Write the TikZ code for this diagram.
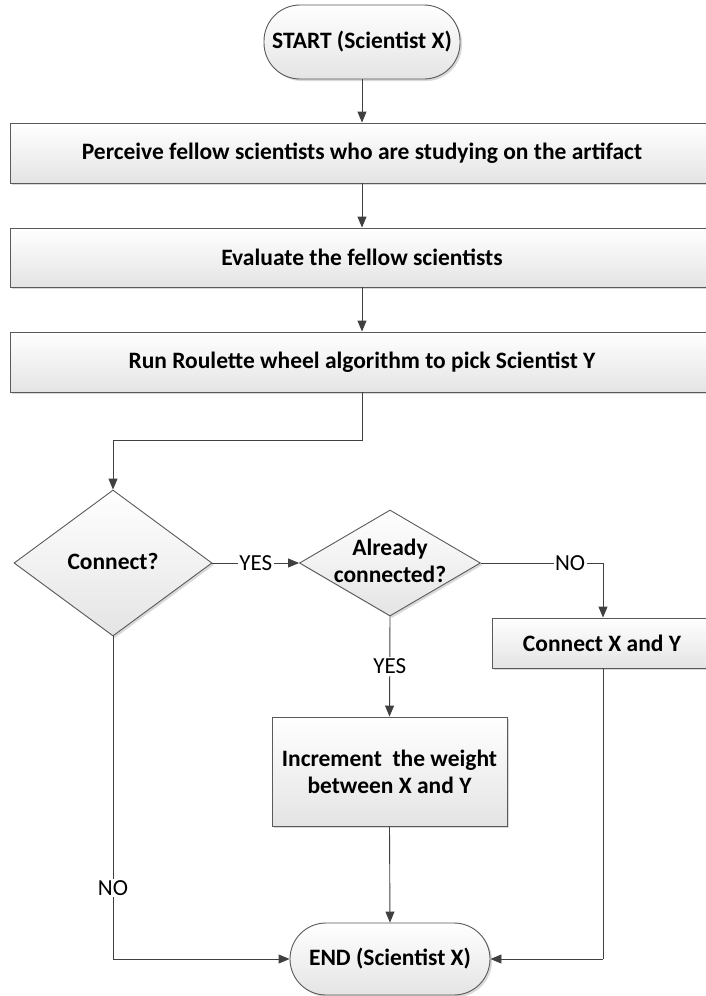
\documentclass[tikz,border=0pt]{standalone}
\usepackage{fontspec}
\setmainfont{Carlito}
\usetikzlibrary{arrows.meta,shapes.geometric,shadows}

\definecolor{edgegray}{HTML}{5A5A5A}
\definecolor{linegray}{HTML}{404040}
\definecolor{fillbot}{HTML}{E4E4E4}

\tikzset{
  shapebase/.style={draw=edgegray, line width=0.9pt, top color=white, bottom color=fillbot,
    drop shadow={shadow xshift=2pt, shadow yshift=-2pt, opacity=0.25, fill=black!60},
    font=\bfseries\fontsize{23.5}{27}\selectfont, align=center, inner sep=0pt},
  procbox/.style={shapebase, rectangle},
  termbox/.style={shapebase, rectangle, rounded corners=36pt},
  decision/.style={shapebase, diamond},
  flow/.style={draw=linegray, line width=0.9pt, -{Triangle[length=11pt,width=9pt]}},
  plain/.style={draw=linegray, line width=0.9pt},
  tag/.style={fill=white, inner sep=1.5pt, font=\fontsize{23}{26}\selectfont}
}
% text of fixed-size diamonds takes no room of its own
\newcommand{\zerobox}[1]{\makebox[0pt]{\smash{\raisebox{-0.3em}{\begin{tabular}{@{}c@{}}#1\end{tabular}}}}}

\begin{document}
\begin{tikzpicture}[x=1pt,y=-1pt]
\useasboundingbox (0,0) rectangle (706,996);

\node[termbox, minimum width=196pt, minimum height=74pt] (start) at (362,42) {START (Scientist X)};
\node[procbox, minimum width=704pt, minimum height=60pt] (perceive) at (362,153) {Perceive fellow scientists who are studying on the artifact};
\node[procbox, minimum width=704pt, minimum height=59pt] (evaluate) at (362,257.5) {Evaluate the fellow scientists};
\node[procbox, minimum width=704pt, minimum height=60pt] (roulette) at (362,362) {Run Roulette wheel algorithm to pick Scientist Y};

\node[decision, minimum width=198pt, minimum height=146pt] (connect) at (113,563) {\zerobox{Connect?}};
\node[decision, minimum width=181pt, minimum height=106pt] (already) at (390,563) {\zerobox{Already\\connected?}};

\node[procbox, minimum width=220pt, minimum height=50pt] (joinxy) at (602,643) {Connect X and Y};
\node[procbox, minimum width=235pt, minimum height=109pt] (incr) at (389.5,771.5) {Increment\ \ the weight\\between X and Y};
\node[termbox, minimum width=200pt, minimum height=72pt] (finish) at (390,959) {END (Scientist X)};

% main sequence
\draw[flow] (start.south) -- (perceive.north);
\draw[flow] (perceive.south) -- (evaluate.north);
\draw[flow] (evaluate.south) -- (roulette.north);

\coordinate (bend) at (362,440);
\draw[flow] (roulette.south) -- (bend) -| (connect.north);

% decisions
\draw[flow] (connect.east) -- node[tag] {YES} (already.west);

\coordinate (nocorner) at (603,563);
\draw[plain] (already.east) -- node[tag, pos=0.73] {NO} (nocorner);
\draw[flow] (nocorner) -- (nocorner |- joinxy.north);

\draw[flow] (already.south) -- node[tag] {YES} (incr.north);

% into END
\draw[flow] (incr.south) -- (finish.north);

\coordinate (leftcorner) at (113,959);
\draw[plain] (connect.south) -- node[tag, pos=0.78] {NO} (leftcorner);
\draw[flow] (leftcorner) -- (finish.west);

\coordinate (rightcorner) at (603,959);
\draw[plain] (nocorner |- joinxy.south) -- (rightcorner);
\draw[flow] (rightcorner) -- (finish.east);
\end{tikzpicture}
\end{document}
